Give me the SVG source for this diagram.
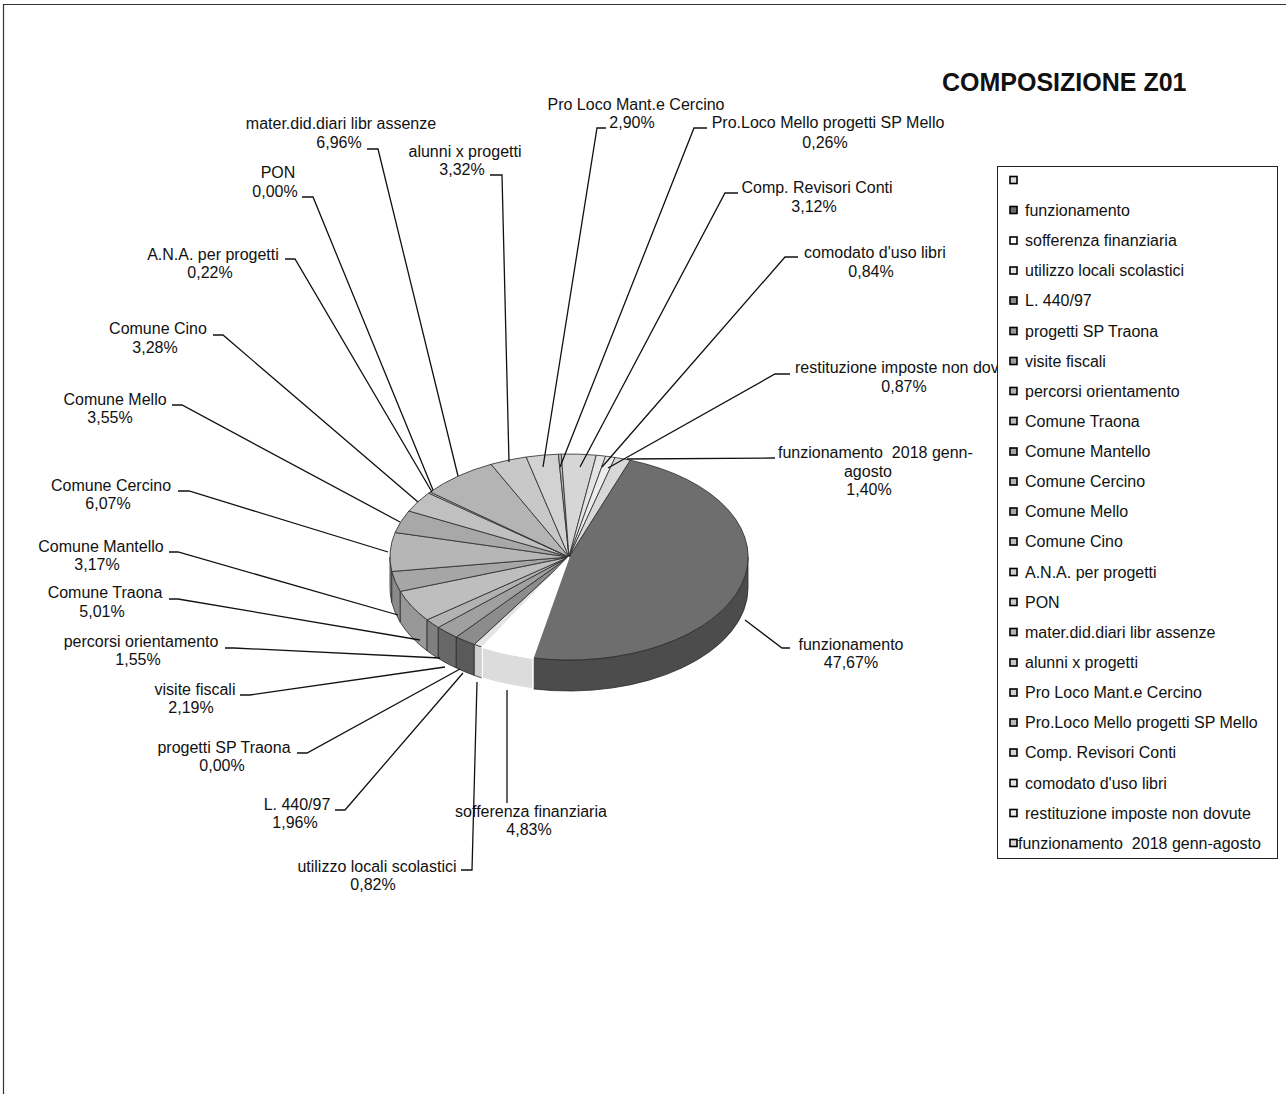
<svg xmlns="http://www.w3.org/2000/svg" width="1286" height="1094" viewBox="0 0 1286 1094">
<style>
text{font-family:"Liberation Sans",Arial,sans-serif;fill:#111}
.lb{font-size:16px;text-anchor:middle}
.ls{font-size:16px}
.lg{font-size:16px}
.ttl{font-size:25px;font-weight:bold}
.top{stroke:#2a2a2a;stroke-width:0.8;stroke-linejoin:round}
.side{stroke:#2a2a2a;stroke-width:0.8;stroke-linejoin:round}
.ld{fill:none;stroke:#111;stroke-width:1.3}
.sw{stroke:#000;stroke-width:1.6}
</style>
<rect x="0" y="0" width="1286" height="1094" fill="#fff"/>
<path d="M3.5,1094 V4.5 H1286" fill="none" stroke="#333" stroke-width="1.2"/>
<text class="ttl" x="942" y="91">COMPOSIZIONE Z01</text>

<g id="pie">
  <g id="sides">
    <path class="side" fill="#9c9c9c" d="M391.8,571.5 A179,103 0 0 1 390,557 L390,588 A179,103 0 0 0 391.8,602.5 Z"/>
    <path class="side" fill="#8a8a8a" d="M400.3,591.4 A179,103 0 0 1 391.8,571.5 L391.8,602.5 A179,103 0 0 0 400.3,622.4 Z"/>
    <path class="side" fill="#989898" d="M427.1,619.8 A179,103 0 0 1 400.3,591.4 L400.3,622.4 A179,103 0 0 0 427.1,650.8 Z"/>
    <path class="side" fill="#808080" d="M438.3,627.4 A179,103 0 0 1 427.1,619.8 L427.1,650.8 A179,103 0 0 0 438.3,658.4 Z"/>
    <path class="side" fill="#686868" d="M456.3,637 A179,103 0 0 1 438.3,627.4 L438.3,658.4 A179,103 0 0 0 456.3,668 Z"/>
    <path class="side" fill="#5a5a5a" d="M474.3,644.4 A179,103 0 0 1 456.3,637 L456.3,668 A179,103 0 0 0 474.3,675.4 Z"/>
    <path class="side" fill="#d0d0d0" d="M482.2,647.1 A179,103 0 0 1 474.3,644.4 L474.3,675.4 A179,103 0 0 0 482.2,678.1 Z"/>
    <path class="side" fill="#4c4c4c" d="M748,557 A179,103 0 0 1 533,657.9 L533,688.9 A179,103 0 0 0 748,588 Z"/>
  </g>
  <g id="s-funzionamento"><path class="top" fill="#6e6e6e" d="M569,557 L630.2,460.2 A179,103 0 0 1 533,657.9 Z"/></g>
  <g id="s-utilizzo"><path class="top" fill="#e4e4e4" d="M569,557 L482.2,647.1 A179,103 0 0 1 474.3,644.4 Z"/></g>
  <g id="s-l440"><path class="top" fill="#8c8c8c" d="M569,557 L474.3,644.4 A179,103 0 0 1 456.3,637 Z"/></g>
  <g id="s-visite"><path class="top" fill="#a0a0a0" d="M569,557 L456.3,637 A179,103 0 0 1 438.3,627.4 Z"/></g>
  <g id="s-percorsi"><path class="top" fill="#b2b2b2" d="M569,557 L438.3,627.4 A179,103 0 0 1 427.1,619.8 Z"/></g>
  <g id="s-traona"><path class="top" fill="#bebebe" d="M569,557 L427.1,619.8 A179,103 0 0 1 400.3,591.4 Z"/></g>
  <g id="s-mantello"><path class="top" fill="#a6a6a6" d="M569,557 L400.3,591.4 A179,103 0 0 1 391.8,571.5 Z"/></g>
  <g id="s-cercino"><path class="top" fill="#b6b6b6" d="M569,557 L391.8,571.5 A179,103 0 0 1 395.1,532.5 Z"/></g>
  <g id="s-mello"><path class="top" fill="#a8a8a8" d="M569,557 L395.1,532.5 A179,103 0 0 1 408.9,511 Z"/></g>
  <g id="s-cino"><path class="top" fill="#c0c0c0" d="M569,557 L408.9,511 A179,103 0 0 1 428.6,493.1 Z"/></g>
  <g id="s-ana"><path class="top" fill="#d0d0d0" d="M569,557 L428.6,493.1 A179,103 0 0 1 430.2,492 Z"/></g>
  <g id="s-mater"><path class="top" fill="#b4b4b4" d="M569,557 L430.2,492 A179,103 0 0 1 491.1,464.3 Z"/></g>
  <g id="s-alunni"><path class="top" fill="#c8c8c8" d="M569,557 L491.1,464.3 A179,103 0 0 1 526.2,457 Z"/></g>
  <g id="s-prolocomant"><path class="top" fill="#d2d2d2" d="M569,557 L526.2,457 A179,103 0 0 1 558.4,454.2 Z"/></g>
  <g id="s-prolocomello"><path class="top" fill="#bbbbbb" d="M569,557 L558.4,454.2 A179,103 0 0 1 561.3,454.1 Z"/></g>
  <g id="s-comp"><path class="top" fill="#d6d6d6" d="M569,557 L561.3,454.1 A179,103 0 0 1 596.3,455.2 Z"/></g>
  <g id="s-comodato"><path class="top" fill="#e4e4e4" d="M569,557 L596.3,455.2 A179,103 0 0 1 605.6,456.2 Z"/></g>
  <g id="s-restituzione"><path class="top" fill="#ececec" d="M569,557 L605.6,456.2 A179,103 0 0 1 615.1,457.5 Z"/></g>
  <g id="s-funz2018"><path class="top" fill="#d8d8d8" d="M569,557 L615.1,457.5 A179,103 0 0 1 630.2,460.2 Z"/></g>
  <g id="s-sofferenza">
    <path fill="#dcdcdc" stroke="#fff" stroke-width="1.5" d="M533,657.9 A179,103 0 0 1 482.2,647.1 L482.2,678.1 A179,103 0 0 0 533,688.9 Z"/>
    <path fill="#fff" stroke="#fff" stroke-width="1.5" d="M569,557 L533,657.9 A179,103 0 0 1 482.2,647.1 Z"/>
  </g>
</g>

<g id="connectors">
  <path class="ld" d="M790,648 H782 L745,620"/>
  <path class="ld" d="M507,803 V690"/>
  <path class="ld" d="M461,870 H472 L477,682"/>
  <path class="ld" d="M335,810 H345 L463,673"/>
  <path class="ld" d="M297,753 H307 L460,669"/>
  <path class="ld" d="M240,695 H250 L445,667"/>
  <path class="ld" d="M225,648 H234 L440,658"/>
  <path class="ld" d="M169,599 H178 L420,640"/>
  <path class="ld" d="M169,552 H178 L398,615"/>
  <path class="ld" d="M178,491 H189 L388,552"/>
  <path class="ld" d="M172,405 H182 L400,522"/>
  <path class="ld" d="M213,335 H223 L418,502"/>
  <path class="ld" d="M285,259 H295 L432,492"/>
  <path class="ld" d="M302,197 H313 L433,490"/>
  <path class="ld" d="M367,149 H378 L458,476"/>
  <path class="ld" d="M490,175 H502 L509,462"/>
  <path class="ld" d="M606,128 H597 L543,467"/>
  <path class="ld" d="M707,128 H694 L560,467"/>
  <path class="ld" d="M738,193 H725 L580,467"/>
  <path class="ld" d="M798,257 H785 L602,467"/>
  <path class="ld" d="M790,374 H775 L608,468"/>
  <path class="ld" d="M775,458 L627,459"/>
</g>

<g id="labels">
  <g id="l-funzionamento"><text class="lb" x="851" y="650">funzionamento</text><text class="lb" x="851" y="668">47,67%</text></g>
  <g id="l-sofferenza"><text class="lb" x="531" y="817">sofferenza finanziaria</text><text class="lb" x="529" y="835">4,83%</text></g>
  <g id="l-utilizzo"><text class="lb" x="377" y="872">utilizzo locali scolastici</text><text class="lb" x="373" y="890">0,82%</text></g>
  <g id="l-l440"><text class="lb" x="297" y="810">L. 440/97</text><text class="lb" x="295" y="828">1,96%</text></g>
  <g id="l-progetti"><text class="lb" x="224" y="753">progetti SP Traona</text><text class="lb" x="222" y="771">0,00%</text></g>
  <g id="l-visite"><text class="lb" x="195" y="695">visite fiscali</text><text class="lb" x="191" y="713">2,19%</text></g>
  <g id="l-percorsi"><text class="lb" x="141" y="647">percorsi orientamento</text><text class="lb" x="138" y="665">1,55%</text></g>
  <g id="l-traona"><text class="lb" x="105" y="598">Comune Traona</text><text class="lb" x="102" y="617">5,01%</text></g>
  <g id="l-mantello"><text class="lb" x="101" y="552">Comune Mantello</text><text class="lb" x="97" y="570">3,17%</text></g>
  <g id="l-cercino"><text class="lb" x="111" y="491">Comune Cercino</text><text class="lb" x="108" y="509">6,07%</text></g>
  <g id="l-mello"><text class="lb" x="115" y="405">Comune Mello</text><text class="lb" x="110" y="423">3,55%</text></g>
  <g id="l-cino"><text class="lb" x="158" y="334">Comune Cino</text><text class="lb" x="155" y="353">3,28%</text></g>
  <g id="l-ana"><text class="lb" x="213" y="260">A.N.A. per progetti</text><text class="lb" x="210" y="278">0,22%</text></g>
  <g id="l-pon"><text class="lb" x="278" y="178">PON</text><text class="lb" x="275" y="197">0,00%</text></g>
  <g id="l-mater"><text class="lb" x="341" y="129">mater.did.diari libr assenze</text><text class="lb" x="339" y="148">6,96%</text></g>
  <g id="l-alunni"><text class="lb" x="465" y="157">alunni x progetti</text><text class="lb" x="462" y="175">3,32%</text></g>
  <g id="l-prolocomant"><text class="lb" x="636" y="110">Pro Loco Mant.e Cercino</text><text class="lb" x="632" y="128">2,90%</text></g>
  <g id="l-prolocomello"><text class="lb" x="828" y="128">Pro.Loco Mello progetti SP Mello</text><text class="lb" x="825" y="148">0,26%</text></g>
  <g id="l-comp"><text class="lb" x="817" y="193">Comp. Revisori Conti</text><text class="lb" x="814" y="212">3,12%</text></g>
  <g id="l-comodato"><text class="lb" x="875" y="258">comodato d'uso libri</text><text class="lb" x="871" y="277">0,84%</text></g>
  <g id="l-restituzione"><text class="ls" x="795" y="373">restituzione imposte non dovute</text><text class="lb" x="904" y="392">0,87%</text></g>
  <g id="l-funz2018"><text class="ls" x="778" y="458" xml:space="preserve">funzionamento  2018 genn-</text><text class="lb" x="868" y="477">agosto</text><text class="lb" x="869" y="495">1,40%</text></g>
</g>

<g id="legend">
  <rect x="997.5" y="166.5" width="280" height="692" fill="#fff" stroke="#222" stroke-width="1"/>
  <g class="sw">
    <rect x="1010" y="176.5" width="7" height="7" fill="#ddd"/>
    <rect x="1010" y="206.5" width="7" height="7" fill="#6e6e6e"/>
    <rect x="1010" y="237" width="7" height="7" fill="#fff"/>
    <rect x="1010" y="267" width="7" height="7" fill="#e4e4e4"/>
    <rect x="1010" y="297" width="7" height="7" fill="#8c8c8c"/>
    <rect x="1010" y="327.5" width="7" height="7" fill="#999"/>
    <rect x="1010" y="357.5" width="7" height="7" fill="#a0a0a0"/>
    <rect x="1010" y="387.5" width="7" height="7" fill="#b2b2b2"/>
    <rect x="1010" y="417.5" width="7" height="7" fill="#bebebe"/>
    <rect x="1010" y="448" width="7" height="7" fill="#a6a6a6"/>
    <rect x="1010" y="478" width="7" height="7" fill="#b6b6b6"/>
    <rect x="1010" y="508" width="7" height="7" fill="#a8a8a8"/>
    <rect x="1010" y="538" width="7" height="7" fill="#c0c0c0"/>
    <rect x="1010" y="568.5" width="7" height="7" fill="#d0d0d0"/>
    <rect x="1010" y="598.5" width="7" height="7" fill="#ccc"/>
    <rect x="1010" y="628.5" width="7" height="7" fill="#b4b4b4"/>
    <rect x="1010" y="659" width="7" height="7" fill="#c8c8c8"/>
    <rect x="1010" y="689" width="7" height="7" fill="#d2d2d2"/>
    <rect x="1010" y="719" width="7" height="7" fill="#bbbbbb"/>
    <rect x="1010" y="749" width="7" height="7" fill="#d6d6d6"/>
    <rect x="1010" y="779.5" width="7" height="7" fill="#e4e4e4"/>
    <rect x="1010" y="809.5" width="7" height="7" fill="#ececec"/>
    <rect x="1010" y="839.5" width="7" height="7" fill="#d8d8d8"/>
  </g>
  <text class="lg" x="1025" y="215.5">funzionamento</text>
  <text class="lg" x="1025" y="246">sofferenza finanziaria</text>
  <text class="lg" x="1025" y="276">utilizzo locali scolastici</text>
  <text class="lg" x="1025" y="306">L. 440/97</text>
  <text class="lg" x="1025" y="336.5">progetti SP Traona</text>
  <text class="lg" x="1025" y="366.5">visite fiscali</text>
  <text class="lg" x="1025" y="396.5">percorsi orientamento</text>
  <text class="lg" x="1025" y="426.5">Comune Traona</text>
  <text class="lg" x="1025" y="457">Comune Mantello</text>
  <text class="lg" x="1025" y="487">Comune Cercino</text>
  <text class="lg" x="1025" y="517">Comune Mello</text>
  <text class="lg" x="1025" y="547">Comune Cino</text>
  <text class="lg" x="1025" y="577.5">A.N.A. per progetti</text>
  <text class="lg" x="1025" y="607.5">PON</text>
  <text class="lg" x="1025" y="637.5">mater.did.diari libr assenze</text>
  <text class="lg" x="1025" y="668">alunni x progetti</text>
  <text class="lg" x="1025" y="698">Pro Loco Mant.e Cercino</text>
  <text class="lg" x="1025" y="728">Pro.Loco Mello progetti SP Mello</text>
  <text class="lg" x="1025" y="758">Comp. Revisori Conti</text>
  <text class="lg" x="1025" y="788.5">comodato d'uso libri</text>
  <text class="lg" x="1025" y="818.5">restituzione imposte non dovute</text>
  <text class="lg" x="1018" y="848.5" xml:space="preserve">funzionamento  2018 genn-agosto</text>
</g>
</svg>
